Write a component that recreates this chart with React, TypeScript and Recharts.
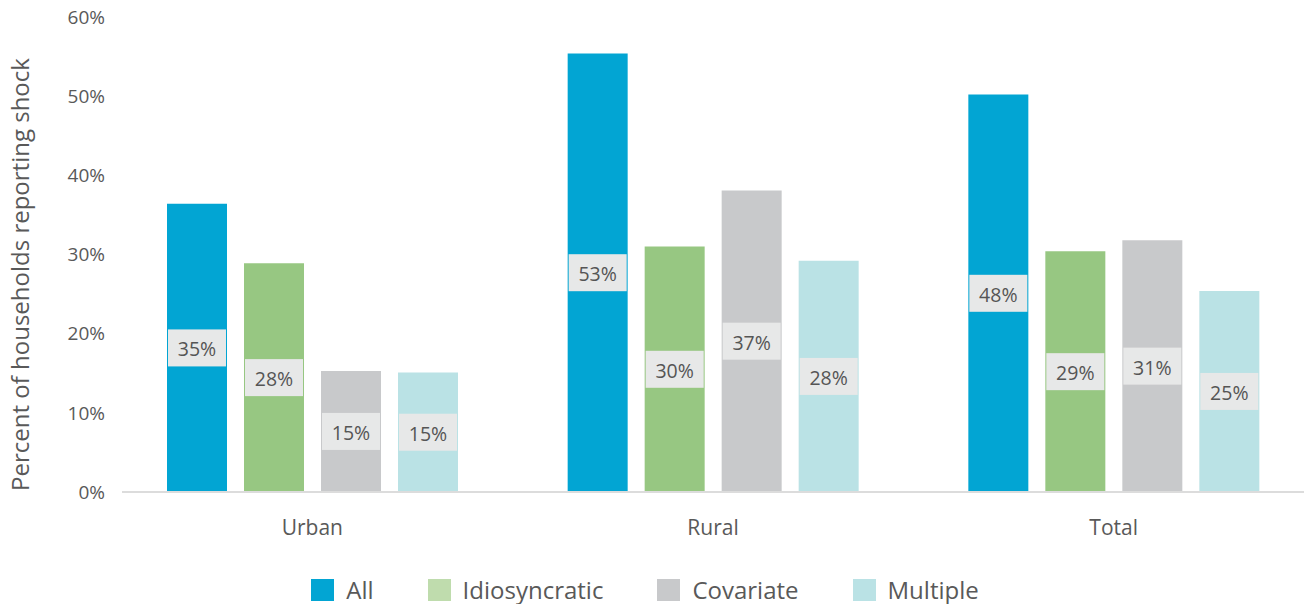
import React from 'react';
import { BarChart, Bar, XAxis, YAxis, Legend, LabelList, Label } from 'recharts';

const categories = ['Urban', 'Rural', 'Total'];
const allValues = [36.4, 55.4, 50.2];
const idioValues = [28.9, 31.0, 30.4];
const covValues = [15.3, 38.1, 31.8];
const multValues = [15.1, 29.2, 25.4];
const allLabels = ['35%', '53%', '48%'];
const idioLabels = ['28%', '30%', '29%'];
const covLabels = ['15%', '37%', '31%'];
const multLabels = ['15%', '28%', '25%'];
const yTicks = [0, 10, 20, 30, 40, 50, 60];
const seriesNames = ['All', 'Idiosyncratic', 'Covariate', 'Multiple'];
const barColors = ['#02a5d3', '#97c782', '#c8c9cb', '#bae2e5'];
const legendColors = ['#02a5d3', '#bfdcad', '#c8c9cb', '#bae2e5'];
const yTitle = 'Percent of households reporting shock';

const data = categories.map((c, i) => ({
  name: c,
  all: allValues[i],
  idio: idioValues[i],
  cov: covValues[i],
  mult: multValues[i],
  allLabel: allLabels[i],
  idioLabel: idioLabels[i],
  covLabel: covLabels[i],
  multLabel: multLabels[i],
}));

const keys = ['all', 'idio', 'cov', 'mult'];
const TEXT = '#595959';
const FONT = '"Open Sans", sans-serif';

const BoxLabel = (props: any) => {
  const { x, y, width, height, value } = props;
  const cx = Number(x) + Number(width) / 2;
  const cy = Number(y) + Number(height) / 2;
  return (
    <g>
      <rect x={cx - 29} y={cy - 18.5} width={58} height={37} fill="#e7e8e8" />
      <text x={cx} y={cy + 1} textAnchor="middle" dominantBaseline="central" fill="#555" fontSize={19.5} fontFamily={FONT}>
        {value}
      </text>
    </g>
  );
};

const YTitle = (props: any) => {
  const vb = props.viewBox || { x: 0, y: 0, width: 0, height: 0 };
  const x = vb.x + 19;
  const y = vb.y + vb.height / 2 + 20;
  return (
    <text x={x} y={y} transform={`rotate(-90, ${x}, ${y})`} textAnchor="middle" dominantBaseline="central" fill={TEXT} fontSize={24} fontFamily={FONT}>
      {yTitle}
    </text>
  );
};

const LegendContent = () => (
  <div style={{ display: 'flex', justifyContent: 'center', alignItems: 'center', fontFamily: FONT, fontSize: 24, color: TEXT }}>
    {seriesNames.map((n, i) => (
      <div key={n} style={{ display: 'flex', alignItems: 'center', marginRight: i < seriesNames.length - 1 ? 54 : 0 }}>
        <div style={{ width: 23, height: 22, background: legendColors[i], marginRight: 12 }} />
        <span>{n}</span>
      </div>
    ))}
  </div>
);

export default function App() {
  return (
    <div style={{ position: 'absolute', left: 0, top: 0, width: 1311, height: 604, background: '#fff', fontFamily: FONT }}>
      <BarChart width={1311} height={604} data={data} margin={{ top: 17, right: 7, bottom: 52, left: 0 }} barSize={60} barGap={17}>
        <XAxis
          dataKey="name"
          height={60}
          padding={{ left: -10, right: -10 }}
          axisLine={{ stroke: '#dcdcdc', strokeWidth: 2 }}
          tickLine={false}
          tickSize={0}
          tickMargin={28}
          tick={{ fill: TEXT, fontSize: 21, fontFamily: FONT }}
        />
        <YAxis
          width={122}
          domain={[0, 60]}
          ticks={yTicks}
          tickFormatter={(v: number) => `${v}%`}
          axisLine={false}
          tickLine={false}
          tickSize={0}
          tickMargin={17}
          tick={{ fill: TEXT, fontSize: 19, fontFamily: FONT }}
        >
          <Label content={<YTitle />} />
        </YAxis>
        <Legend
          layout="horizontal"
          verticalAlign="middle"
          align="center"
          content={<LegendContent />}
          wrapperStyle={{ top: 573, bottom: 'auto', left: 0, width: 1290, height: 32 }}
        />
        {keys.map((k, i) => (
          <Bar key={k} dataKey={k} name={seriesNames[i]} fill={barColors[i]} isAnimationActive={false}>
            <LabelList dataKey={`${k}Label`} content={<BoxLabel />} />
          </Bar>
        ))}
      </BarChart>
    </div>
  );
}
